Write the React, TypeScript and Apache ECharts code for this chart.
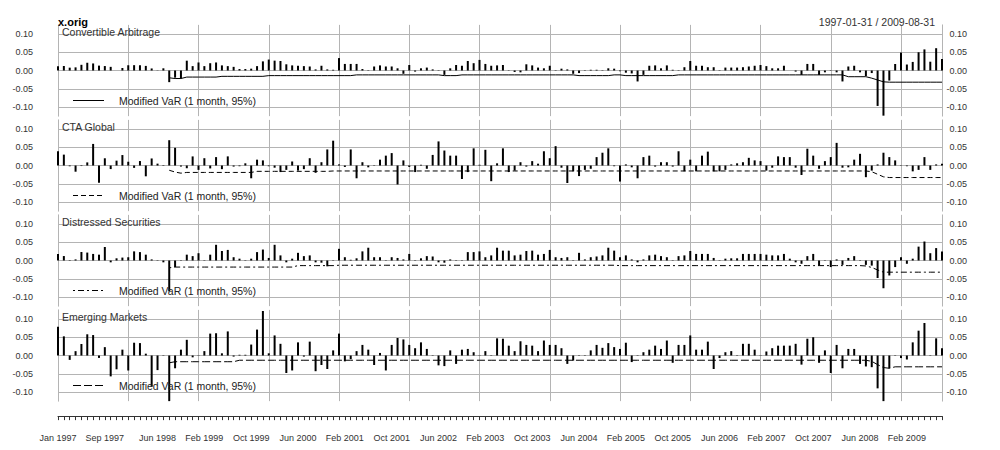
import React, { useEffect, useRef } from "react";
import * as echarts from "echarts";

// ---- categories & labels ----
const MONTH_ABBR = ["Jan", "Feb", "Mar", "Apr", "May", "Jun", "Jul", "Aug", "Sep", "Oct", "Nov", "Dec"];
const months: string[] = [];
for (let y = 1997; y <= 2009; y++) {
  for (let m = 0; m < 12; m++) {
    if (y === 2009 && m > 7) break;
    months.push(`${MONTH_ABBR[m]} ${y}`);
  }
}
const tickLabels = [
  "Jan 1997", "Sep 1997", "Jun 1998", "Feb 1999", "Oct 1999", "Jun 2000", "Feb 2001", "Oct 2001",
  "Jun 2002", "Feb 2003", "Oct 2003", "Jun 2004", "Feb 2005", "Oct 2005", "Jun 2006", "Feb 2007",
  "Oct 2007", "Jun 2008", "Feb 2009",
];
const yTicks = [-0.1, -0.05, 0, 0.05, 0.1];
const panelNames = ["Convertible Arbitrage", "CTA Global", "Distressed Securities", "Emerging Markets"];
const legendLabel = "Modified VaR (1 month, 95%)";
const chartTitle = "x.orig";
const dateRange = "1997-01-31 / 2009-08-31";

// ---- monthly returns ----
const convertibleArbitrage = [
  0.0119, 0.0123, 0.0078, 0.0086, 0.0156, 0.0212, 0.0193, 0.0134, 0.0122, 0.0100, 0.0000, 0.0068,
  0.0145, 0.0146, 0.0144, 0.0126, 0.0056, -0.0006, 0.0060, -0.0319, -0.0196, -0.0214, 0.0269, 0.0120,
  0.022, 0.012, 0.020, 0.022, 0.014, 0.012, 0.010, 0.004, 0.004, 0.005, 0.012, 0.025,
  0.030, 0.027, 0.026, 0.017, 0.014, 0.013, 0.012, 0.011, 0.003, 0.013, 0.003, 0.002,
  0.034, 0.018, 0.018, 0.018, 0.004, 0.001, 0.011, 0.014, 0.011, 0.011, 0.006, -0.009,
  0.015, -0.003, 0.006, 0.008, 0.003, 0.001, -0.012, 0.006, 0.015, 0.013, 0.026, 0.020,
  0.029, 0.018, 0.013, 0.014, 0.015, -0.001, -0.004, -0.005, 0.017, 0.014, 0.008, 0.006,
  0.013, 0.001, 0.005, 0.003, -0.009, -0.007, 0.001, 0.002, 0.002, -0.001, 0.006, 0.005,
  -0.002, -0.006, -0.008, -0.030, -0.012, 0.013, 0.014, 0.006, 0.014, 0.002, 0.001, 0.009,
  0.026, 0.013, 0.013, 0.009, 0.009, 0.001, 0.008, 0.008, 0.008, 0.009, 0.011, 0.013,
  0.015, 0.012, 0.006, 0.006, 0.013, 0.000, -0.003, -0.012, 0.018, 0.018, -0.012, -0.005,
  0.001, -0.005, -0.030, 0.011, 0.013, -0.005, -0.015, -0.007, -0.0971, -0.1237, -0.0276, 0.0178,
  0.0491, 0.0164, 0.0235, 0.0500, 0.0578, 0.0241, 0.0611, 0.0315,
];
const ctaGlobal = [
  0.0393, 0.0298, -0.0021, -0.0170, -0.0015, 0.0085, 0.0591, -0.0473, 0.0198, -0.0098, 0.0133, 0.0286,
  0.0104, -0.0065, 0.0122, -0.0296, 0.0193, 0.0051, -0.0013, 0.0693, 0.0485, -0.0029, -0.0075, 0.0249,
  -0.012, 0.020, -0.008, 0.023, -0.010, 0.025, -0.003, -0.002, 0.006, -0.035, 0.016, 0.014,
  -0.002, -0.006, -0.018, -0.012, 0.011, -0.014, -0.010, 0.020, -0.020, 0.009, 0.044, 0.068,
  0.003, -0.004, 0.044, -0.035, 0.009, -0.005, 0.001, 0.016, 0.027, 0.034, -0.052, 0.014,
  -0.004, -0.018, 0.002, -0.009, 0.029, 0.066, 0.041, 0.027, 0.027, -0.037, -0.018, 0.047,
  0.002, 0.043, -0.043, 0.006, 0.047, -0.018, -0.014, 0.009, -0.003, 0.012, 0.005, 0.039,
  0.020, 0.053, -0.006, -0.048, -0.016, -0.029, -0.012, -0.009, 0.023, 0.035, 0.047, -0.002,
  -0.044, 0.003, -0.005, -0.035, 0.023, 0.027, -0.003, 0.009, 0.009, -0.003, 0.039, -0.016,
  0.016, -0.016, 0.027, 0.038, -0.016, -0.016, -0.012, 0.003, 0.006, 0.009, 0.021, 0.014,
  0.012, -0.014, -0.006, 0.025, 0.023, 0.023, -0.006, -0.026, 0.046, 0.027, -0.009, 0.012,
  0.023, 0.062, -0.006, -0.005, 0.016, 0.032, -0.032, -0.014, 0.003, 0.035, 0.023, 0.014,
  -0.001, -0.002, -0.016, -0.012, 0.023, -0.012, 0.003, 0.005,
];
const distressedSecurities = [
  0.0178, 0.0122, -0.0012, 0.0030, 0.0233, 0.0217, 0.018, 0.016, 0.037, -0.005, 0.006, 0.008,
  0.009, 0.025, 0.023, 0.016, 0.003, 0.001, -0.005, -0.085, -0.018, 0.001, 0.016, 0.012,
  0.020, 0.001, 0.016, 0.043, 0.026, 0.029, 0.009, 0.005, 0.001, 0.005, 0.023, 0.030,
  0.007, 0.043, 0.014, -0.005, 0.005, 0.021, 0.012, 0.014, -0.005, -0.006, -0.016, 0.001,
  0.032, 0.009, 0.002, 0.006, 0.025, 0.035, 0.009, 0.009, 0.001, 0.009, 0.007, 0.003,
  0.018, 0.001, 0.006, 0.012, 0.011, -0.005, -0.006, 0.003, 0.001, 0.001, 0.023, 0.023,
  0.025, 0.009, 0.014, 0.035, 0.027, 0.027, 0.014, 0.016, 0.026, 0.027, 0.016, 0.018,
  0.029, 0.009, 0.007, 0.009, 0.001, 0.021, 0.003, 0.009, 0.011, 0.014, 0.035, 0.027,
  0.009, 0.014, 0.003, -0.005, 0.003, 0.014, 0.016, 0.012, 0.009, 0.001, 0.012, 0.014,
  0.026, 0.018, 0.018, 0.018, 0.007, 0.001, 0.005, 0.006, 0.006, 0.018, 0.018, 0.018,
  0.018, 0.016, 0.014, 0.014, 0.018, 0.005, -0.005, -0.009, 0.012, 0.018, -0.014, 0.001,
  -0.018, 0.003, -0.012, 0.007, 0.012, 0.001, -0.012, -0.014, -0.048, -0.076, -0.041, -0.018,
  0.009, -0.009, 0.005, 0.038, 0.052, 0.020, 0.034, 0.025,
];
const emergingMarkets = [
  0.0791, 0.0525, -0.0120, 0.0119, 0.0315, 0.0581, 0.0560, -0.0066, 0.0229, -0.0572, -0.0378, 0.0160,
  -0.041, 0.035, 0.034, 0.005, -0.085, -0.040, 0.001, -0.200, -0.035, 0.016, 0.043, -0.005,
  0.001, 0.012, 0.060, 0.061, 0.006, 0.066, -0.003, 0.002, 0.002, 0.030, 0.071, 0.122,
  0.006, 0.055, 0.032, -0.048, -0.041, 0.036, -0.003, 0.038, -0.043, -0.026, -0.037, 0.014,
  0.060, -0.016, -0.010, 0.012, 0.029, 0.016, -0.026, 0.007, -0.041, 0.029, 0.048, 0.044,
  0.029, 0.020, 0.036, 0.018, 0.001, -0.027, -0.029, 0.014, -0.023, 0.016, 0.018, 0.009,
  0.001, 0.012, 0.001, 0.047, 0.046, 0.027, 0.012, 0.039, 0.029, 0.027, 0.012, 0.041,
  0.029, 0.029, 0.020, -0.023, -0.014, 0.001, 0.001, 0.014, 0.029, 0.021, 0.034, 0.023,
  0.018, 0.035, -0.018, 0.001, 0.009, 0.016, 0.027, 0.018, 0.041, -0.020, 0.029, 0.029,
  0.055, 0.016, 0.016, 0.038, -0.037, -0.007, 0.009, 0.012, 0.001, 0.032, 0.032, 0.016,
  0.001, 0.011, 0.020, 0.027, 0.027, 0.027, 0.032, -0.025, 0.046, 0.050, -0.020, 0.014,
  -0.048, 0.029, -0.035, 0.018, 0.018, -0.023, -0.030, -0.032, -0.090, -0.170, -0.035, 0.001,
  -0.007, -0.011, 0.036, 0.068, 0.089, 0.001, 0.047, 0.020,
];

// ---- modified VaR (1 month, 95%) ----
const varConvertibleArbitrage = [
  null, null, null, null, null, null, null, null, null, null, null, null,
  null, null, null, null, null, null, null, -0.020, -0.022, -0.022, -0.018, -0.018,
  -0.018, -0.018, -0.018, -0.018, -0.016, -0.016, -0.016, -0.016, -0.016, -0.016, -0.016, -0.016,
  -0.014, -0.014, -0.014, -0.014, -0.014, -0.014, -0.014, -0.014, -0.014, -0.014, -0.014, -0.014,
  -0.014, -0.014, -0.014, -0.012, -0.012, -0.012, -0.012, -0.012, -0.012, -0.012, -0.012, -0.012,
  -0.012, -0.012, -0.012, -0.012, -0.012, -0.012, -0.014, -0.014, -0.014, -0.012, -0.012, -0.012,
  -0.012, -0.012, -0.012, -0.012, -0.012, -0.012, -0.012, -0.012, -0.012, -0.012, -0.012, -0.012,
  -0.012, -0.012, -0.012, -0.012, -0.012, -0.014, -0.014, -0.014, -0.014, -0.014, -0.014, -0.012,
  -0.012, -0.014, -0.014, -0.014, -0.014, -0.014, -0.014, -0.014, -0.014, -0.014, -0.012, -0.012,
  -0.012, -0.012, -0.012, -0.012, -0.012, -0.012, -0.012, -0.012, -0.012, -0.012, -0.012, -0.012,
  -0.012, -0.012, -0.012, -0.012, -0.012, -0.012, -0.012, -0.012, -0.012, -0.012, -0.012, -0.012,
  -0.012, -0.012, -0.012, -0.017, -0.017, -0.017, -0.017, -0.021, -0.026, -0.031, -0.032, -0.032,
  -0.032, -0.032, -0.032, -0.032, -0.032, -0.032, -0.032, -0.032,
];
const varCtaGlobal = [
  null, null, null, null, null, null, null, null, null, null, null, null,
  null, null, null, null, null, null, null, -0.013, -0.018, -0.021, -0.019, -0.019,
  -0.019, -0.019, -0.019, -0.019, -0.019, -0.019, -0.019, -0.019, -0.019, -0.019, -0.016, -0.016,
  -0.016, -0.016, -0.016, -0.016, -0.016, -0.016, -0.016, -0.016, -0.016, -0.016, -0.016, -0.015,
  -0.015, -0.015, -0.015, -0.015, -0.015, -0.015, -0.015, -0.015, -0.015, -0.015, -0.015, -0.015,
  -0.015, -0.015, -0.015, -0.015, -0.015, -0.015, -0.015, -0.015, -0.015, -0.015, -0.015, -0.015,
  -0.015, -0.015, -0.015, -0.015, -0.015, -0.015, -0.015, -0.015, -0.015, -0.015, -0.015, -0.015,
  -0.015, -0.015, -0.015, -0.015, -0.015, -0.015, -0.015, -0.015, -0.015, -0.015, -0.015, -0.015,
  -0.015, -0.015, -0.015, -0.015, -0.015, -0.015, -0.015, -0.015, -0.015, -0.015, -0.015, -0.015,
  -0.015, -0.015, -0.015, -0.015, -0.015, -0.015, -0.015, -0.015, -0.015, -0.015, -0.015, -0.015,
  -0.015, -0.015, -0.015, -0.015, -0.015, -0.015, -0.015, -0.015, -0.015, -0.015, -0.015, -0.015,
  -0.015, -0.015, -0.015, -0.015, -0.015, -0.015, -0.015, -0.017, -0.024, -0.031, -0.033, -0.033,
  -0.033, -0.033, -0.033, -0.033, -0.033, -0.033, -0.033, -0.033,
];
const varDistressedSecurities = [
  null, null, null, null, null, null, null, null, null, null, null, null,
  null, null, null, null, null, null, null, -0.020, -0.018, -0.018, -0.018, -0.018,
  -0.018, -0.018, -0.018, -0.018, -0.018, -0.018, -0.018, -0.018, -0.018, -0.018, -0.018, -0.018,
  -0.018, -0.018, -0.018, -0.018, -0.018, -0.014, -0.014, -0.014, -0.014, -0.014, -0.014, -0.014,
  -0.013, -0.013, -0.013, -0.013, -0.013, -0.013, -0.013, -0.013, -0.013, -0.013, -0.013, -0.013,
  -0.013, -0.013, -0.013, -0.013, -0.013, -0.013, -0.013, -0.013, -0.013, -0.013, -0.013, -0.013,
  -0.013, -0.013, -0.013, -0.013, -0.013, -0.013, -0.013, -0.013, -0.013, -0.013, -0.013, -0.013,
  -0.013, -0.013, -0.013, -0.013, -0.013, -0.013, -0.013, -0.013, -0.013, -0.013, -0.013, -0.013,
  -0.014, -0.014, -0.014, -0.014, -0.014, -0.014, -0.014, -0.014, -0.014, -0.014, -0.014, -0.014,
  -0.014, -0.014, -0.014, -0.014, -0.014, -0.014, -0.014, -0.014, -0.014, -0.014, -0.014, -0.014,
  -0.014, -0.014, -0.014, -0.014, -0.014, -0.014, -0.014, -0.014, -0.014, -0.014, -0.014, -0.014,
  -0.014, -0.014, -0.014, -0.014, -0.014, -0.014, -0.015, -0.019, -0.026, -0.032, -0.032, -0.032,
  -0.032, -0.032, -0.032, -0.032, -0.032, -0.032, -0.032, -0.032,
];
const varEmergingMarkets = [
  null, null, null, null, null, null, null, null, null, null, null, null,
  null, null, null, null, null, null, null, -0.020, -0.017, -0.017, -0.017, -0.017,
  -0.017, -0.017, -0.017, -0.017, -0.017, -0.017, -0.017, -0.013, -0.013, -0.013, -0.013, -0.013,
  -0.013, -0.013, -0.013, -0.013, -0.013, -0.013, -0.013, -0.013, -0.013, -0.013, -0.013, -0.013,
  -0.013, -0.013, -0.013, -0.013, -0.013, -0.013, -0.013, -0.013, -0.013, -0.013, -0.013, -0.013,
  -0.013, -0.013, -0.013, -0.013, -0.013, -0.013, -0.013, -0.013, -0.013, -0.013, -0.013, -0.013,
  -0.013, -0.013, -0.013, -0.013, -0.013, -0.013, -0.013, -0.013, -0.013, -0.013, -0.013, -0.013,
  -0.013, -0.013, -0.013, -0.013, -0.013, -0.013, -0.013, -0.013, -0.013, -0.013, -0.013, -0.013,
  -0.013, -0.013, -0.013, -0.013, -0.013, -0.013, -0.013, -0.013, -0.013, -0.013, -0.013, -0.013,
  -0.013, -0.013, -0.013, -0.013, -0.013, -0.013, -0.013, -0.013, -0.013, -0.013, -0.013, -0.013,
  -0.013, -0.013, -0.013, -0.013, -0.013, -0.013, -0.013, -0.013, -0.013, -0.013, -0.013, -0.013,
  -0.013, -0.013, -0.013, -0.013, -0.013, -0.013, -0.013, -0.016, -0.025, -0.033, -0.035, -0.031,
  -0.031, -0.031, -0.031, -0.031, -0.031, -0.031, -0.031, -0.031,
];

const returnsList = [convertibleArbitrage, ctaGlobal, distressedSecurities, emergingMarkets];
const varList = [varConvertibleArbitrage, varCtaGlobal, varDistressedSecurities, varEmergingMarkets];

// ---- styling ----
const FONT = '"Liberation Sans", Arial, sans-serif';
const GRID_COLOR = "#b4b4b4";
const TEXT_COLOR = "#333333";
const dashes: (number[] | null)[] = [null, [5, 3], [2, 3, 6, 3], [8, 3]];
const zeroY = [70.5, 165.5, 260.5, 355.5];
const HALF = 45.625;
const YMIN = -0.125;
const YMAX = 0.125;

export default function App() {
  const ref = useRef<HTMLDivElement>(null);

  useEffect(() => {
    if (!ref.current) return;
    const chart = echarts.init(ref.current, undefined, { renderer: "svg" });

    const grids = zeroY.map((z) => ({ left: 58, right: 58, top: z - HALF, height: HALF * 2 }));

    const xAxes = zeroY.map((_, k) => ({
      type: "category",
      gridIndex: k,
      data: months,
      boundaryGap: false,
      offset: k === 3 ? 15 : 0,
      axisLine: { show: k === 3, onZero: false, lineStyle: { color: "#333", width: 1 } },
      axisTick: { show: k === 3, interval: 0, length: 4, lineStyle: { color: "#333", width: 1 } },
      axisLabel: {
        show: k === 3,
        interval: (_i: number, v: string) => tickLabels.includes(v),
        color: TEXT_COLOR,
        fontSize: 9,
        fontFamily: FONT,
        margin: 17,
      },
      splitLine: {
        show: true,
        interval: (i: number) => i % 12 === 0,
        lineStyle: { color: GRID_COLOR, width: 1 },
      },
    }));

    const yAxes: any[] = [];
    zeroY.forEach((_, k) => {
      yAxes.push({
        type: "value",
        gridIndex: k,
        position: "left",
        min: YMIN,
        max: YMAX,
        axisLine: { show: true, lineStyle: { color: GRID_COLOR } },
        axisTick: { show: false, customValues: yTicks },
        axisLabel: {
          customValues: yTicks,
          formatter: (v: number) => v.toFixed(2),
          color: TEXT_COLOR,
          fontSize: 9,
          fontFamily: FONT,
          margin: 25,
        },
        splitLine: { show: true, lineStyle: { color: GRID_COLOR, width: 1 } },
      });
    });
    zeroY.forEach((_, k) => {
      yAxes.push({
        type: "value",
        gridIndex: k,
        position: "right",
        min: YMIN,
        max: YMAX,
        axisLine: { show: true, lineStyle: { color: GRID_COLOR } },
        axisTick: { show: false, customValues: yTicks },
        axisLabel: {
          customValues: yTicks,
          formatter: (v: number) => v.toFixed(2),
          color: TEXT_COLOR,
          fontSize: 9,
          fontFamily: FONT,
          margin: 25,
          align: "right",
        },
        splitLine: { show: false },
      });
    });

    const series: any[] = [];
    returnsList.forEach((data, k) => {
      series.push({
        type: "bar",
        name: panelNames[k],
        xAxisIndex: k,
        yAxisIndex: k,
        data,
        barWidth: 2,
        itemStyle: { color: "#000" },
        silent: true,
        z: 3,
      });
      series.push({
        type: "line",
        name: `${panelNames[k]} VaR`,
        xAxisIndex: k,
        yAxisIndex: k,
        data: varList[k],
        symbol: "none",
        connectNulls: false,
        lineStyle: { color: "#000", width: 1, type: dashes[k] ?? "solid" },
        silent: true,
        z: 4,
      });
    });

    const textStyle = (size: number, align: string, bold = false, color = TEXT_COLOR) => ({
      font: `${bold ? "bold " : ""}${size}px ${FONT}`,
      fill: color,
      align,
      textAlign: align,
      verticalAlign: "middle",
      textVerticalAlign: "middle",
    });

    const graphics: any[] = [
      { type: "text", x: 58, y: 21.5, z: 10, style: { text: chartTitle, ...textStyle(11, "left", true, "#000") } },
      { type: "text", x: 935, y: 21.5, z: 10, style: { text: dateRange, ...textStyle(10.5, "right") } },
    ];
    panelNames.forEach((name, k) => {
      const z = zeroY[k];
      graphics.push({ type: "text", x: 62, y: z - 39, z: 10, style: { text: name, ...textStyle(10.5, "left") } });
      graphics.push({
        type: "line",
        z: 10,
        shape: { x1: 73, y1: z + 30, x2: 104, y2: z + 30 },
        style: { stroke: "#000", lineWidth: 1, lineDash: dashes[k] ?? null },
      });
      graphics.push({
        type: "text",
        x: 119,
        y: z + 30,
        z: 10,
        style: { text: legendLabel, ...textStyle(10.5, "left", false, "#222") },
      });
    });

    chart.setOption({
      animation: false,
      backgroundColor: "#ffffff",
      grid: grids,
      xAxis: xAxes,
      yAxis: yAxes,
      series,
      graphic: graphics,
    });

    return () => chart.dispose();
  }, []);

  return (
    <div
      ref={ref}
      style={{ position: "absolute", left: 0, top: 0, width: 1000, height: 450, background: "#fff" }}
    />
  );
}
